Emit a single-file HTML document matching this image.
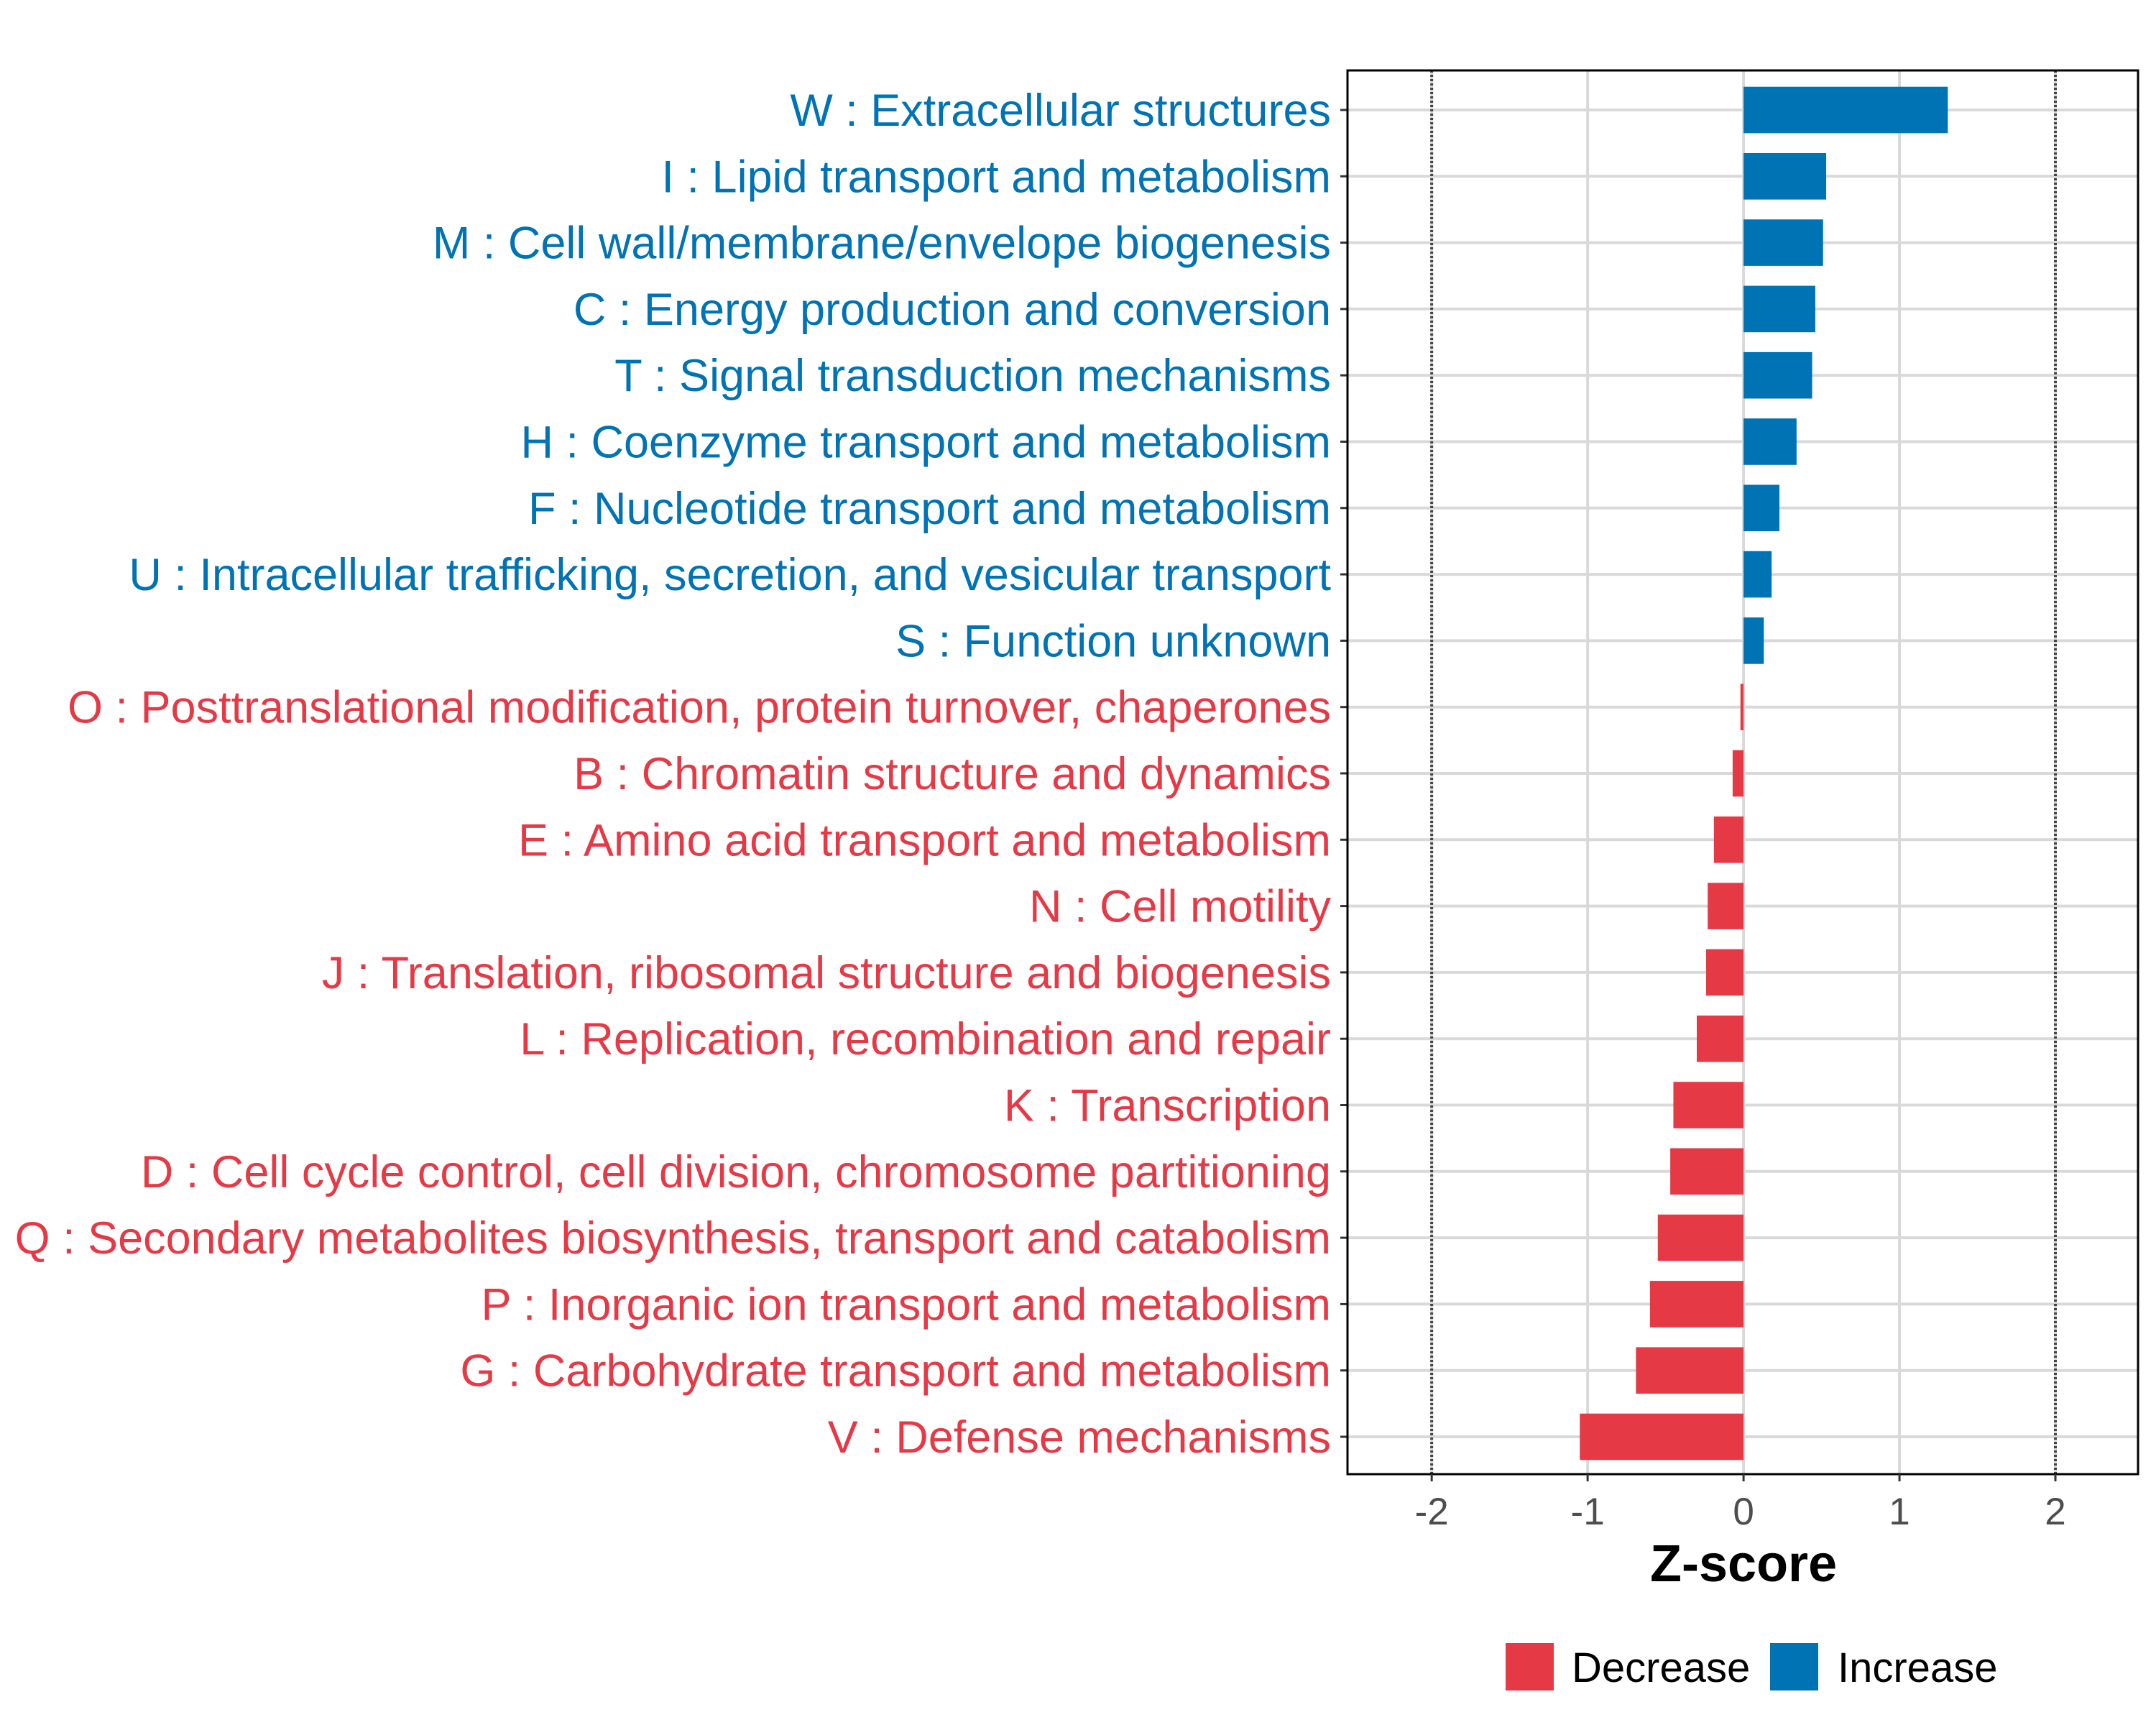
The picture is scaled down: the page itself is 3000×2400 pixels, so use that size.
<!DOCTYPE html>
<html><head><meta charset="utf-8"><style>
html,body{margin:0;padding:0;background:#fff}
svg{display:block;font-family:"Liberation Sans",Arial,sans-serif}
</style></head><body>
<svg id="chart" width="3000" height="2400" viewBox="0 0 3000 2400" xmlns="http://www.w3.org/2000/svg"></svg>
<script>
const categories = ["W : Extracellular structures","I : Lipid transport and metabolism","M : Cell wall/membrane/envelope biogenesis","C : Energy production and conversion","T : Signal transduction mechanisms","H : Coenzyme transport and metabolism","F : Nucleotide transport and metabolism","U : Intracellular trafficking, secretion, and vesicular transport","S : Function unknown","O : Posttranslational modification, protein turnover, chaperones","B : Chromatin structure and dynamics","E : Amino acid transport and metabolism","N : Cell motility","J : Translation, ribosomal structure and biogenesis","L : Replication, recombination and repair","K : Transcription","D : Cell cycle control, cell division, chromosome partitioning","Q : Secondary metabolites biosynthesis, transport and catabolism","P : Inorganic ion transport and metabolism","G : Carbohydrate transport and metabolism","V : Defense mechanisms"];
const zscores = [1.31,0.53,0.51,0.46,0.44,0.34,0.23,0.18,0.13,-0.02,-0.07,-0.19,-0.23,-0.24,-0.30,-0.45,-0.47,-0.55,-0.60,-0.69,-1.05];
const xTicks = [-2,-1,0,1,2];
const xTickLabels = ["-2","-1","0","1","2"];
const legendLabels = ["Decrease","Increase"];

const NS="http://www.w3.org/2000/svg";
const svg=document.getElementById('chart');
const L=1875,R=2975,T=98,B=2051;
const xMin=-2.54,xMax=2.53;
const x=v=>L+(v-xMin)/(xMax-xMin)*(R-L);
const y0=153,step=(1999-153)/20;
const y=i=>y0+i*step;
const RED="#E63946",BLUE="#0073B4";
function el(tag,attrs,parent){const e=document.createElementNS(NS,tag);for(const k in attrs)e.setAttribute(k,attrs[k]);(parent||svg).appendChild(e);return e;}

const grid=el('g',{});


xTicks.forEach(t=>{const g=el('line',{x1:x(t),x2:x(t),y1:T,y2:B,stroke:"#d9d9d9","stroke-width":4},grid);

});
categories.forEach((c,i)=>{const g=el('line',{x1:L,x2:R,y1:y(i),y2:y(i),stroke:"#d9d9d9","stroke-width":4},grid);

});
[-2,2].forEach(t=>{const d=el('line',{x1:x(t),x2:x(t),y1:T,y2:B,stroke:"#444","stroke-width":4,"stroke-dasharray":"3,3"});

});

const bh=step*0.7;
categories.forEach((c,i)=>{
 const v=zscores[i],col=v>=0?BLUE:RED;
 const r=el('rect',{x:Math.min(x(0),x(v)),y:y(i)-bh/2,width:Math.abs(x(v)-x(0)),height:bh,fill:col});
 
 
 const tk=el('line',{x1:L-10,x2:L,y1:y(i),y2:y(i),stroke:"#333","stroke-width":3});
 
 
 const t=el('text',{x:1852,y:y(i)+22,"text-anchor":"end","font-size":63,fill:col});
 t.textContent=c;
 
 
});
const border=el('rect',{x:L,y:T,width:R-L,height:B-T,fill:"none",stroke:"#000","stroke-width":3});


xTicks.forEach((t,i)=>{
 const tk=el('line',{x1:x(t),x2:x(t),y1:B,y2:B+10,stroke:"#333","stroke-width":3});
 
 
 const lb=el('text',{x:x(t),y:B+70,"text-anchor":"middle","font-size":53,fill:"#4d4d4d"});
 lb.textContent=xTickLabels[i];
 
 
});
const title=el('text',{x:x(0),y:2200,"text-anchor":"middle","font-size":72,"font-weight":"bold",fill:"#000"});
title.textContent="Z-score";



const lg=el('g',{});


[[2095,RED,2187],[2463,BLUE,2557]].forEach((p,i)=>{
 const s=el('rect',{x:p[0],y:2286,width:67,height:66,fill:p[1]},lg);
 
 
 const t=el('text',{x:p[2],y:2340,"font-size":58,fill:"#000"},lg);
 t.textContent=legendLabels[i];
 
 
});
</script>
</body></html>
